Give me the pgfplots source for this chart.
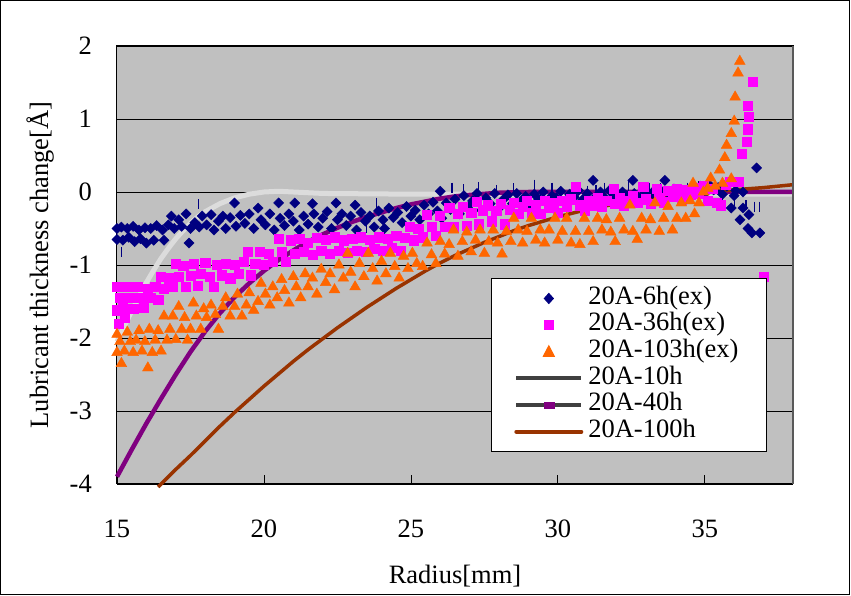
\documentclass[border=0pt]{standalone}
\usepackage{pgfplots}
\pgfplotsset{compat=1.18}
\usepackage{fontspec}
\setmainfont{Liberation Serif}
\definecolor{navyc}{HTML}{000080}
\definecolor{magc}{HTML}{FF00FF}
\definecolor{orc}{HTML}{FF6600}
\definecolor{purc}{HTML}{800080}
\definecolor{brc}{HTML}{993300}
\definecolor{bgc}{HTML}{C0C0C0}
\definecolor{lgc}{HTML}{DCDCDC}
\definecolor{dgc}{HTML}{404040}
\newcommand{\bigf}{\fontsize{26.5}{28}\selectfont}
\begin{document}
\begin{tikzpicture}
\useasboundingbox (-117pt,-112pt) rectangle (734pt,484pt);
\draw[black, line width=1pt] (-116pt,-110.5pt) rectangle (732pt,483pt);
\begin{axis}[
 at={(0,0)}, anchor=south west, scale only axis, width=676pt, height=438pt,
 xmin=15, xmax=38, ymin=-4, ymax=2,
 xtick={15,20,25,30,35}, xticklabels={15,20,25,30,35},
 ytick={-4,-3,-2,-1,0,1,2}, yticklabels={-4,-3,-2,-1,0,1,2},
 tick align=inside, xtick pos=bottom, ytick pos=left, major tick length=9pt,
 xtick style={black, line width=0.8pt}, ytick style={draw=none},
 ymajorgrids, grid style={black, line width=0.8pt},
 axis background/.style={fill=bgc},
 axis line style={black, line width=1pt},
 tick label style={font=\bigf},
 label style={font=\bigf},
 xticklabel style={inner sep=0pt, anchor=north, yshift=-36pt},
 yticklabel style={inner sep=0pt, anchor=east, xshift=-25pt},
 xlabel={Radius[mm]}, ylabel={Lubricant thickness change[Å]},
 xlabel style={at={(axis description cs:0.5,0)}, anchor=base, yshift=-99pt, inner sep=0pt},
 ylabel style={at={(axis description cs:0,0.5)}, anchor=center, yshift=77pt, inner sep=0pt},
 clip=false,
 legend cell align=left,
 legend style={at={(0.553,0.470)}, anchor=north west, draw=black, line width=1pt, fill=white,
   font=\bigf, inner xsep=0pt, inner ysep=6.5pt, row sep=0pt, column sep=0pt,
   nodes={inner sep=0pt, text height=19pt, text depth=7.67pt, text width=178pt, align=left}},
]
% vertical dash marks (navy)
\addplot[forget plot, only marks, mark=|, mark size=5pt, navyc, line width=1.2pt] coordinates {
(15.16,-0.82)(17.76,-0.17)(23.83,-0.15)(23.5,-0.5)(26.4,0.06)(26.8,0.04)(27.3,0.07)(27.9,0.03)(28.5,0.05)(29.2,0.1)(29.4,-0.05)(29.8,0.06)(30.5,0.05)(31.0,0.02)(31.3,0.03)(31.6,0.06)(32.0,0.04)(32.4,0.08)(32.8,0.03)(33.1,0.06)(33.5,0.05)(34.0,0.03)(34.4,0.06)(34.8,0.08)(35.2,0.05)(35.6,-0.1)(36.0,-0.12)(36.4,-0.18)(36.7,-0.2)(36.85,-0.2)
};
% 20A-6h(ex)
\addplot[only marks, mark=square*, mark size=3.6pt, navyc, mark options={fill=navyc, draw=navyc, rotate=45},
 legend image code/.code={\path[draw=none,fill=none] (-25pt,-5pt) rectangle (72pt,12pt);
   \fill[navyc] (32.5pt,5pt)--(37pt,0pt)--(32.5pt,-5pt)--(28pt,0pt)--cycle;}] coordinates {
(15.0,-0.50)(15.0,-0.65)(15.15,-0.48)(15.2,-0.66)(15.35,-0.50)(15.4,-0.62)(15.55,-0.47)(15.6,-0.68)(15.75,-0.52)(15.8,-0.64)(15.95,-0.49)(16.0,-0.70)(16.15,-0.50)(16.25,-0.66)(16.35,-0.46)(16.55,-0.52)(16.6,-0.66)(16.75,-0.45)(16.85,-0.33)(16.95,-0.50)(17.1,-0.38)(17.2,-0.47)(17.35,-0.30)(17.45,-0.70)(17.5,-0.50)(17.65,-0.42)(17.8,-0.48)(17.9,-0.33)(18.05,-0.45)(18.2,-0.31)(18.3,-0.52)(18.45,-0.40)(18.6,-0.33)(18.7,-0.50)(18.85,-0.35)(19.0,-0.15)(19.05,-0.47)(19.2,-0.32)(19.35,-0.43)(19.5,-0.30)(19.65,-0.50)(19.8,-0.22)(19.9,-0.38)(20.05,-0.45)(20.2,-0.30)(20.35,-0.52)(20.5,-0.15)(20.55,-0.36)(20.7,-0.46)(20.85,-0.30)(21.0,-0.40)(21.05,-0.15)(21.2,-0.52)(21.35,-0.33)(21.5,-0.44)(21.65,-0.16)(21.7,-0.30)(21.85,-0.48)(22.0,-0.36)(22.15,-0.27)(22.3,-0.50)(22.45,-0.15)(22.5,-0.38)(22.65,-0.30)(22.8,-0.46)(22.95,-0.33)(23.1,-0.18)(23.15,-0.52)(23.3,-0.28)(23.45,-0.40)(23.6,-0.33)(23.75,-0.48)(23.9,-0.26)(24.05,-0.38)(24.1,-0.50)(24.25,-0.22)(24.4,-0.35)(24.55,-0.28)(24.7,-0.42)(24.85,-0.20)(25.0,-0.33)(25.15,-0.25)(25.3,-0.38)(25.45,-0.18)(25.6,-0.30)(25.75,-0.14)(25.9,-0.26)(26.0,0.01)(26.05,-0.36)(26.2,-0.15)(26.35,-0.24)(26.5,-0.10)(26.65,-0.30)(26.8,-0.05)(26.95,-0.20)(27.1,-0.12)(27.25,-0.02)(27.4,-0.25)(27.55,-0.08)(27.7,-0.16)(27.85,-0.02)(28.0,-0.22)(28.15,-0.10)(28.3,-0.04)(28.45,-0.16)(28.6,-0.02)(28.75,-0.12)(28.9,-0.06)(29.05,-0.20)(29.2,-0.03)(29.35,-0.10)(29.5,0.0)(29.65,-0.15)(29.8,-0.05)(29.95,-0.08)(30.1,0.01)(30.25,-0.12)(30.4,-0.03)(30.55,-0.07)(30.7,0.02)(30.85,-0.10)(31.0,-0.02)(31.2,0.16)(31.3,-0.06)(31.45,0.0)(31.6,-0.08)(31.75,0.02)(31.9,-0.04)(32.05,-0.10)(32.2,0.0)(32.35,-0.05)(32.55,0.16)(32.6,-0.02)(32.75,-0.08)(32.9,0.03)(33.05,-0.04)(33.2,-0.01)(33.35,-0.07)(33.5,0.02)(33.64,0.16)(33.8,-0.03)(33.95,0.04)(34.1,-0.05)(34.25,0.01)(34.4,-0.02)(34.55,0.05)(34.7,0.0)(34.85,0.08)(35.0,-0.02)(35.15,0.1)(35.3,0.03)(35.45,0.06)(35.6,-0.03)(35.75,0.08)(35.9,-0.22)(36.0,-0.05)(36.05,0.02)(36.2,-0.38)(36.3,-0.22)(36.3,0.0)(36.47,-0.50)(36.5,-0.31)(36.6,-0.56)(36.76,0.33)(36.87,-0.56)
};
\addlegendentry{20A-6h(ex)}
% 20A-36h(ex)
\addplot[only marks, mark=square*, mark size=4.6pt, magc, mark options={fill=magc, draw=magc},
 legend image code/.code={\path[draw=none,fill=none] (-25pt,-5pt) rectangle (72pt,5pt);
   \fill[magc] (28pt,-4.5pt) rectangle (37pt,4.5pt);}] coordinates {
(15.0,-1.30)(15.0,-1.62)(15.05,-1.80)(15.1,-1.45)(15.2,-1.58)(15.25,-1.72)(15.35,-1.30)(15.45,-1.45)(15.55,-1.60)(15.7,-1.30)(15.8,-1.45)(15.9,-1.58)(16.05,-1.32)(16.15,-1.45)(16.3,-1.30)(16.4,-1.48)(16.5,-1.16)(16.6,-1.32)(16.75,-1.18)(16.9,-1.30)(17.0,-0.98)(17.1,-1.16)(17.25,-1.01)(17.35,-1.30)(17.5,-1.15)(17.6,-0.98)(17.75,-1.28)(17.85,-1.12)(18.0,-0.97)(18.15,-1.16)(18.3,-1.30)(18.4,-1.00)(18.55,-1.14)(18.7,-0.98)(18.85,-1.18)(19.0,-1.00)(19.15,-1.12)(19.3,-0.96)(19.45,-0.82)(19.55,-1.14)(19.7,-0.98)(19.85,-0.82)(20.0,-1.00)(20.15,-0.85)(20.3,-0.96)(20.5,-0.64)(20.6,-0.82)(20.75,-0.95)(20.9,-0.66)(21.05,-0.84)(21.2,-0.64)(21.35,-0.82)(21.5,-0.70)(21.65,-0.86)(21.8,-0.63)(21.95,-0.80)(22.1,-0.65)(22.25,-0.84)(22.4,-0.62)(22.55,-0.80)(22.7,-0.66)(22.85,-0.83)(23.0,-0.64)(23.15,-0.80)(23.3,-0.62)(23.45,-0.82)(23.6,-0.65)(23.75,-0.78)(23.9,-0.62)(24.05,-0.80)(24.2,-0.64)(24.35,-0.76)(24.5,-0.60)(24.65,-0.80)(24.8,-0.63)(24.95,-0.48)(25.1,-0.66)(25.25,-0.50)(25.4,-0.62)(25.55,-0.31)(25.7,-0.47)(25.85,-0.60)(25.99,-0.32)(26.15,-0.47)(26.3,-0.22)(26.45,-0.48)(26.6,-0.30)(26.75,-0.20)(26.9,-0.46)(27.05,-0.28)(27.24,-0.13)(27.3,-0.44)(27.45,-0.25)(27.6,-0.18)(27.75,-0.40)(27.9,-0.26)(28.05,-0.16)(28.2,-0.44)(28.35,-0.24)(28.5,-0.15)(28.65,-0.30)(28.8,-0.20)(28.95,-0.12)(29.1,-0.28)(29.25,-0.18)(29.4,-0.30)(29.55,-0.12)(29.7,-0.22)(29.85,-0.15)(30.0,-0.28)(30.15,-0.12)(30.3,-0.20)(30.45,-0.10)(30.6,0.07)(30.75,-0.18)(30.9,-0.26)(31.05,-0.12)(31.2,-0.18)(31.35,-0.08)(31.5,-0.20)(31.65,-0.12)(31.9,0.05)(31.95,-0.16)(32.1,-0.08)(32.25,-0.18)(32.4,-0.12)(32.55,-0.05)(32.7,-0.15)(32.9,0.07)(33.0,-0.10)(33.15,-0.16)(33.36,0.05)(33.45,-0.08)(33.6,-0.14)(33.75,0.02)(33.9,-0.06)(34.05,0.04)(34.2,-0.10)(34.35,0.03)(34.5,-0.04)(34.65,0.06)(34.8,-0.02)(34.95,0.08)(35.1,-0.12)(35.25,0.05)(35.4,-0.15)(35.55,-0.18)(35.7,0.10)(35.85,0.14)(36.0,0.14)(36.15,0.14)(36.25,0.53)(36.42,0.69)(36.45,0.86)(36.5,1.03)(36.45,1.18)(36.62,1.51)(37.0,-1.16)
};
\addlegendentry{20A-36h(ex)}
% 20A-103h(ex)
\addplot[only marks, mark=triangle*, mark size=6.2pt, orc, mark options={fill=orc, draw=orc},
 legend image code/.code={\path[draw=none,fill=none] (-25pt,-5pt) rectangle (72pt,5pt);
   \fill[orc] (32.5pt,6pt)--(38pt,-4.5pt)--(27pt,-4.5pt)--cycle;}] coordinates {
(15.0,-1.95)(15.0,-2.20)(15.1,-2.05)(15.15,-2.35)(15.25,-2.18)(15.35,-1.92)(15.45,-2.05)(15.55,-2.20)(15.65,-2.03)(15.75,-1.90)(15.85,-2.18)(15.95,-2.05)(16.05,-2.41)(16.1,-1.88)(16.2,-2.20)(16.3,-2.03)(16.4,-1.90)(16.5,-2.18)(16.6,-1.70)(16.7,-2.03)(16.8,-1.88)(16.9,-1.70)(17.0,-2.02)(17.1,-1.57)(17.2,-1.88)(17.3,-1.72)(17.4,-2.03)(17.5,-1.88)(17.6,-1.52)(17.7,-1.70)(17.85,-1.88)(17.95,-1.60)(18.05,-1.72)(18.2,-1.55)(18.35,-1.68)(18.45,-1.88)(18.6,-1.57)(18.7,-1.45)(18.85,-1.70)(19.0,-1.57)(19.1,-1.40)(19.25,-1.70)(19.4,-1.55)(19.5,-1.38)(19.65,-1.62)(19.8,-1.50)(19.9,-1.25)(20.05,-1.40)(20.2,-1.55)(20.3,-1.30)(20.45,-1.45)(20.6,-1.20)(20.7,-1.35)(20.85,-1.52)(21.0,-1.16)(21.1,-1.30)(21.25,-1.45)(21.4,-1.12)(21.5,-1.30)(21.65,-1.18)(21.8,-1.40)(21.95,-1.06)(22.1,-1.24)(22.25,-1.12)(22.4,-1.34)(22.55,-1.00)(22.7,-1.18)(22.85,-0.84)(22.95,-1.10)(23.1,-1.30)(23.25,-0.98)(23.4,-1.16)(23.55,-0.84)(23.7,-1.05)(23.85,-1.22)(24.0,-0.95)(24.15,-1.12)(24.3,-0.84)(24.45,-1.02)(24.6,-1.18)(24.75,-0.88)(24.9,-1.05)(25.05,-0.84)(25.2,-0.98)(25.4,-1.02)(25.55,-0.70)(25.7,-0.86)(25.85,-0.98)(26.0,-0.68)(26.15,-0.85)(26.3,-0.72)(26.45,-0.52)(26.6,-0.88)(26.75,-0.68)(26.9,-0.55)(27.05,-0.82)(27.2,-0.66)(27.35,-0.52)(27.5,-0.84)(27.65,-0.68)(27.8,-0.52)(27.95,-0.70)(28.1,-0.85)(28.25,-0.54)(28.4,-0.68)(28.5,-0.36)(28.65,-0.52)(28.8,-0.70)(28.95,-0.54)(29.1,-0.36)(29.25,-0.66)(29.4,-0.52)(29.55,-0.70)(29.7,-0.52)(29.9,-0.36)(30.0,-0.66)(30.15,-0.54)(30.3,-0.36)(30.45,-0.70)(30.6,-0.54)(30.75,-0.72)(30.9,-0.36)(31.05,-0.54)(31.2,-0.68)(31.35,-0.36)(31.5,-0.52)(31.65,-0.38)(31.8,-0.55)(31.95,-0.68)(32.1,-0.36)(32.25,-0.52)(32.45,-0.18)(32.55,-0.54)(32.7,-0.65)(32.85,-0.36)(33.0,-0.52)(33.15,-0.38)(33.3,-0.15)(33.45,-0.54)(33.6,-0.36)(33.75,-0.20)(33.9,-0.52)(34.05,-0.36)(34.2,-0.15)(34.35,-0.36)(34.5,-0.12)(34.6,0.12)(34.65,-0.30)(34.8,-0.15)(34.95,0.0)(35.1,0.05)(35.2,0.19)(35.35,0.08)(35.5,0.30)(35.6,0.12)(35.68,0.47)(35.74,0.64)(35.9,0.80)(35.9,0.18)(36.0,0.97)(36.03,1.30)(36.13,1.63)(36.19,1.79)
};
\addlegendentry{20A-103h(ex)}
% 20A-10h
\addplot[lgc, line width=5pt, no marks,
 legend image code/.code={\path[draw=none,fill=none] (-25pt,-5pt) rectangle (72pt,5pt);
   \draw[dgc, line width=4pt] (0pt,0pt)--(65pt,0pt);}] coordinates {
(15.0,-2.05)(15.25,-1.84)(15.5,-1.63)(15.75,-1.43)(16.0,-1.24)(16.25,-1.07)(16.5,-0.91)(16.75,-0.77)(17.0,-0.64)(17.25,-0.53)(17.5,-0.43)(17.75,-0.34)(18.0,-0.27)(18.5,-0.16)(19.0,-0.08)(19.5,-0.03)(20.0,0.0)(20.5,0.01)(21.0,0.0)(22.0,-0.02)(25.0,-0.03)(30.0,-0.03)(35.0,-0.03)(38.0,-0.03)
};
\addlegendentry{20A-10h}
% 20A-40h
\addplot[purc, line width=4.5pt, no marks,
 legend image code/.code={\path[draw=none,fill=none] (-25pt,-5pt) rectangle (72pt,5pt);
   \draw[dgc, line width=4pt] (0pt,0pt)--(65pt,0pt);
   \fill[purc] (30pt,-1.2pt) rectangle (36pt,1.2pt);}] coordinates {
(15.0,-3.90)(15.5,-3.53)(16.0,-3.17)(16.5,-2.83)(17.0,-2.50)(17.5,-2.19)(18.0,-1.91)(18.5,-1.66)(19.0,-1.44)(19.5,-1.25)(20.0,-1.08)(20.5,-0.93)(21.0,-0.80)(21.5,-0.68)(22.0,-0.58)(22.5,-0.49)(23.0,-0.41)(23.5,-0.34)(24.0,-0.28)(24.5,-0.22)(25.0,-0.17)(25.5,-0.13)(26.0,-0.09)(26.5,-0.06)(27.0,-0.04)(28.0,-0.01)(29.0,0.0)(38.0,0.0)
};
\addlegendentry{20A-40h}
% 20A-100h
\addplot[brc, line width=3.5pt, no marks,
 legend image code/.code={\path[draw=none,fill=none] (-25pt,-5pt) rectangle (72pt,5pt);
   \draw[brc, line width=4pt, line cap=round] (0pt,0pt)--(65pt,0pt);}] coordinates {
(16.4,-4.04)(17.0,-3.80)(17.5,-3.61)(18.0,-3.41)(18.5,-3.21)(19.0,-3.02)(19.5,-2.84)(20.0,-2.66)(20.5,-2.49)(21.0,-2.32)(21.5,-2.16)(22.0,-2.01)(22.5,-1.86)(23.0,-1.72)(23.5,-1.58)(24.0,-1.45)(24.5,-1.32)(25.0,-1.20)(25.5,-1.08)(26.0,-0.97)(26.5,-0.87)(27.0,-0.78)(27.5,-0.69)(28.0,-0.61)(28.5,-0.53)(29.0,-0.46)(29.5,-0.40)(30.0,-0.34)(31.0,-0.24)(32.0,-0.16)(33.0,-0.09)(34.0,-0.04)(35.0,0.0)(36.0,0.03)(37.0,0.06)(38.0,0.10)
};
\addlegendentry{20A-100h}
\draw[gray!70!black, line width=1.5pt] (rel axis cs:1,0) -- (rel axis cs:1,1);
\end{axis}
\end{tikzpicture}
\end{document}
